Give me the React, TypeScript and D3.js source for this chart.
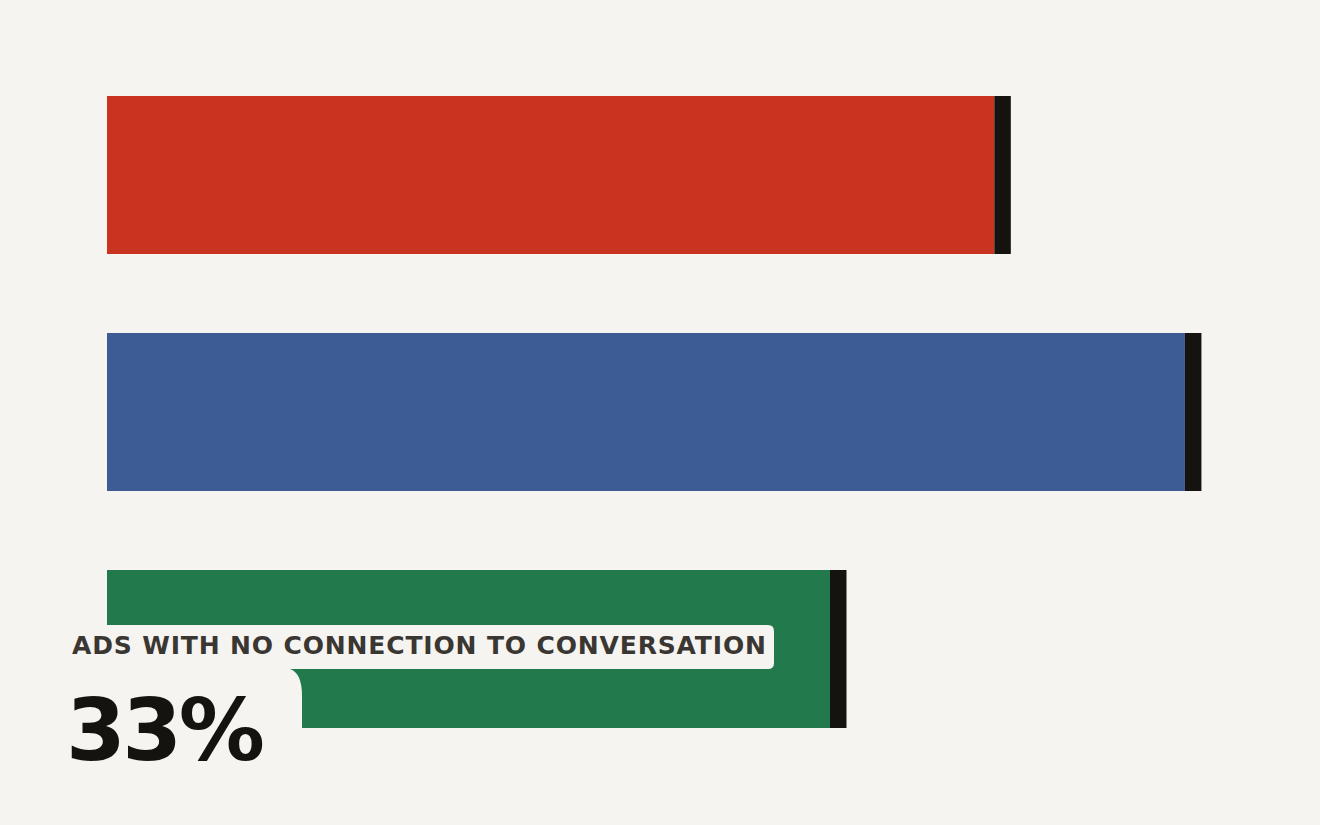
import { useEffect, useRef } from 'react';
import * as d3 from 'd3';

// chart values
const categories = ['Red', 'Blue', 'Green'];
const values = [40.5, 49.2, 33];
const colors = ['#c93420', '#3d5b95', '#22794c'];
const labelTitle = 'ADS WITH NO CONNECTION TO CONVERSATION';
const labelValue = '33%';

const BG = '#f5f4f0';
const CAP = '#15130f';

export default function App() {
  const ref = useRef<SVGSVGElement>(null);

  useEffect(() => {
    if (!ref.current) return;
    document.body.style.margin = '0';
    const svg = d3.select(ref.current);
    svg.selectAll('*').remove();

    const W = 1320, H = 825;
    svg.append('rect').attr('width', W).attr('height', H).attr('fill', BG);

    const x = d3.scaleLinear().domain([0, 33]).range([107, 830]);
    const y = d3.scaleBand().domain(categories).range([96, 728])
      .paddingInner(1 / 3).paddingOuter(0);
    const capW = 16.5;

    const g = svg.append('g');
    g.selectAll('.bar').data(categories).enter().append('rect')
      .attr('class', 'bar')
      .attr('x', x(0)).attr('y', d => y(d)!)
      .attr('width', (_, i) => x(values[i]) - x(0))
      .attr('height', y.bandwidth())
      .attr('fill', (_, i) => colors[i]);

    g.selectAll('.cap').data(categories).enter().append('rect')
      .attr('class', 'cap')
      .attr('x', (_, i) => x(values[i])).attr('y', d => y(d)!)
      .attr('width', capW).attr('height', y.bandwidth())
      .attr('fill', CAP);

    // callout on the last bar
    const last = categories[categories.length - 1];
    const by = y(last)!;
    const top = by + 55, mid = by + 99;
    const left = 62, right = 774, r = 6, rc = 12, innerR = 302;
    const p = d3.path();
    p.moveTo(left, top);
    p.lineTo(right - r, top);
    p.quadraticCurveTo(right, top, right, top + r);
    p.lineTo(right, mid - r);
    p.quadraticCurveTo(right, mid, right - r, mid);
    p.lineTo(innerR - rc, mid);
    p.quadraticCurveTo(innerR, mid + 4, innerR, mid + 27);
    p.lineTo(innerR, H);
    p.lineTo(left, H);
    p.closePath();
    svg.append('path').attr('d', p.toString()).attr('fill', BG);

    svg.append('text')
      .attr('x', 72).attr('y', top + 29)
      .attr('font-family', 'DejaVu Sans')
      .attr('font-weight', 700)
      .attr('font-size', 25)
      .attr('letter-spacing', 0.85)
      .attr('fill', '#3a3632')
      .text(labelTitle);

    svg.append('text')
      .attr('x', 66).attr('y', 760)
      .attr('font-family', 'DejaVu Sans')
      .attr('font-weight', 700)
      .attr('font-size', 86)
      .attr('letter-spacing', -3.5)
      .attr('fill', '#15130f')
      .text(labelValue);
  }, []);

  return <svg ref={ref} width={1320} height={825} style={{ display: 'block' }} />;
}
